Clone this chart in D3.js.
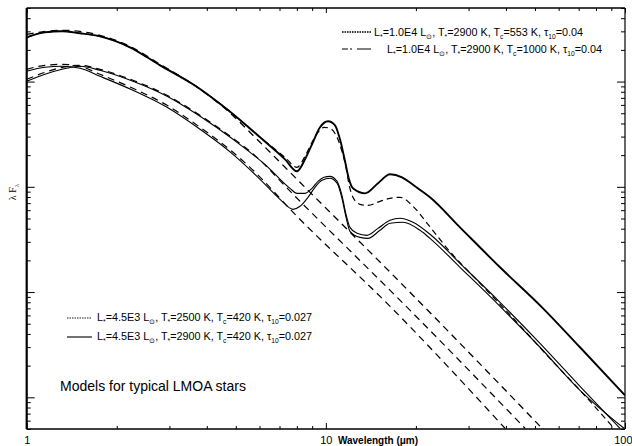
<!DOCTYPE html>
<html><head><meta charset="utf-8">
<script src="https://cdn.jsdelivr.net/npm/d3@7"></script>
<style>body{margin:0;background:#fff}svg{display:block}text{font-family:"Liberation Sans",Arial,Helvetica,sans-serif;fill:#000}</style>
</head><body>
<svg id="c" width="632" height="446"></svg>
<script>
// ---- data: wavelength (micron), lambda*F_lambda (arbitrary units) ----
const xMajorTicks = [1, 10, 100];
const xTickLabels = ["1", "10", "100"];
const yMajorTicks = [1, 10, 100, 1000];

// L*=1.0E4, T*=2900 K, Tc=553 K, tau10=0.04
const modelA = [[1.00,2633],[1.151,2937],[1.312,3002],[1.508,2874],[1.758,2691],[2.214,2116],[2.791,1427],[3.597,941.7],[4.675,544.8],[6.027,295.3],[7.304,182.5],[8.009,140.4],[8.518,182.5],[8.989,253.4],[9.561,367.5],[10.17,419.1],[10.73,384.0],[11.15,282.7],[11.59,174.7],[11.95,117.9],[12.32,96.8],[13.52,86.7],[14.94,108.0],[16.39,131.5],[17.97,123.1],[19.86,101.1],[22.29,79.5],[28.08,41.2],[38.21,17.19],[53.20,7.01],[70.72,2.99],[100,1.045]];
// L*=1.0E4, T*=2900 K, Tc=1000 K, tau10=0.04
const modelB = [[1.00,2633],[1.151,2937],[1.312,3002],[1.508,2874],[1.758,2691],[2.214,2116],[2.791,1427],[3.597,941.7],[4.675,544.8],[6.027,295.3],[7.304,190.7],[8.009,153.2],[8.518,194.9],[8.989,264.7],[9.414,329.3],[9.858,367.5],[10.32,359.5],[10.90,295.3],[11.32,217.5],[11.68,153.2],[11.95,105.6],[12.32,79.5],[13.01,68.2],[13.83,66.7],[15.17,72.8],[16.39,77.8],[17.70,79.5],[19.56,65.3],[21.95,44.0],[25.60,25.5],[32.76,12.11],[43.55,5.16],[54.87,2.506],[70.72,1.166],[91.88,0.508]];
// L*=4.5E3, T*=2500 K, Tc=420 K, tau10=0.027
const modelC = [[1.00,1005.5],[1.151,1172],[1.312,1307],[1.508,1396],[1.758,1279],[2.266,1005.5],[2.945,724.3],[3.797,467.5],[4.894,282.7],[6.360,156.6],[7.589,96.76],[8.009,86.7],[8.518,86.7],[8.989,96.76],[9.414,112.8],[9.858,123.1],[10.32,125.8],[10.90,112.8],[11.32,83.0],[11.68,54.8],[12.04,41.2],[12.71,36.15],[13.72,34.6],[14.94,40.3],[16.39,48.1],[17.70,50.2],[19.56,46.0],[22.29,35.4],[28.08,18.76],[38.21,7.99],[51.99,3.26],[70.72,1.272],[96.23,0.508]];
// L*=4.5E3, T*=2900 K, Tc=420 K, tau10=0.027
const modelD = [[1.00,1251.5],[1.151,1366],[1.312,1396],[1.508,1336],[1.758,1122],[2.266,825.8],[2.945,569.2],[3.797,351.8],[4.894,203.6],[6.027,117.9],[7.028,76.1],[7.766,61.1],[8.197,65.3],[8.717,79.5],[9.199,98.9],[9.708,115.3],[10.32,120.5],[10.90,108.0],[11.32,77.8],[11.68,51.3],[12.04,37.8],[13.01,33.1],[13.83,32.4],[15.17,38.6],[16.39,45.0],[18.11,46.0],[20.64,38.6],[22.29,32.4],[28.08,17.19],[38.21,7.32],[51.99,2.99],[70.72,1.166],[99.24,0.508]];
// naked stellar photospheres
const photo1 = [[1.00,2811],[1.312,3068],[1.758,2750],[2.214,2162],[2.791,1458],[3.597,941.7],[4.675,533.1],[6.027,264.7],[8.009,117.9],[19.86,8.916],[52.80,0.508]];
const photo2 = [[1.00,1050.5],[1.151,1224],[1.312,1366],[1.508,1427],[1.758,1307],[2.266,1028],[2.945,740.3],[3.797,477.8],[4.894,288.9],[5.579,217.5],[8.009,77.8],[20.64,5.39],[46.32,0.508]];
const photo3 = [[1.00,1307],[1.151,1427],[1.312,1458],[1.508,1396],[1.758,1172],[2.266,862.8],[2.945,594.7],[3.797,367.5],[4.894,212.7],[5.579,153.2],[8.009,52.4],[16.39,7.32],[39.71,0.508]];

const legendTop = [
  [["L"],["*",1],["=1.0E4 L"],["\u2299",1],[", T"],["*",1],["=2900 K, T"],["c",1],["=553 K, \u03c4"],["10",1],["=0.04"]],
  [["L"],["*",1],["=1.0E4 L"],["\u2299",1],[", T"],["*",1],["=2900 K, T"],["c",1],["=1000 K, \u03c4"],["10",1],["=0.04"]]
];
const legendBottom = [
  [["L"],["*",1],["=4.5E3 L"],["\u2299",1],[", T"],["*",1],["=2500 K, T"],["c",1],["=420 K, \u03c4"],["10",1],["=0.027"]],
  [["L"],["*",1],["=4.5E3 L"],["\u2299",1],[", T"],["*",1],["=2900 K, T"],["c",1],["=420 K, \u03c4"],["10",1],["=0.027"]]
];
const noteText = "Models for typical LMOA stars";
const xLabel = "Wavelength (\u03bcm)";

// ---- drawing ----
const m = {l:26.7, r:625, t:8, b:429};
const x = d3.scaleLog().domain([1,100]).range([m.l,m.r]);
const y = d3.scaleLog().domain([0.5,5000]).range([m.b,m.t]);
const svg = d3.select("#c");
svg.append("rect").attr("width",632).attr("height",446).attr("fill","#fff");
svg.append("clipPath").attr("id","clip").append("rect")
  .attr("x",m.l).attr("y",m.t).attr("width",m.r-m.l).attr("height",m.b-m.t);
const g = svg.append("g").attr("clip-path","url(#clip)");
const line = d3.line().x(d=>x(d[0])).y(d=>y(d[1])).curve(d3.curveMonotoneX);

const series = [
  {d:photo1, w:1.3, dash:"7,5"},
  {d:photo2, w:1.2, dash:"7,5"},
  {d:photo3, w:1.2, dash:"7,5"},
  {d:modelB, w:1.2, dash:"6,4"},
  {d:modelC, w:1.1, dash:null},
  {d:modelD, w:1.1, dash:null},
  {d:modelA, w:1.9, dash:null}
];
series.forEach(s=>{
  g.append("path").attr("d",line(s.d)).attr("fill","none").attr("stroke","#000")
   .attr("stroke-width",s.w).attr("stroke-dasharray",s.dash).attr("stroke-linejoin","round");
});

// ticks
const xMinor = [];
[1,10].forEach(p=>{for(let k=2;k<=9;k++) xMinor.push(k*p);});
const yMinor = [];
[0.1,1,10,100,1000].forEach(p=>{for(let k=2;k<=9;k++){const v=k*p; if(v>=0.5 && v<=5000) yMinor.push(v);}});

function axisG(axis, tx, ty){
  const a = svg.append("g").attr("transform",`translate(${tx},${ty})`).call(axis);
  a.select(".domain").remove();
  a.selectAll("line").attr("stroke","#000").attr("stroke-width",1);
  return a;
}
const fmtNone = ()=>"";
axisG(d3.axisBottom(x).tickValues(xMinor).tickSize(-3).tickFormat(fmtNone),0,m.b);
const xb = axisG(d3.axisBottom(x).tickValues(xMajorTicks).tickSize(-6).tickPadding(7).tickFormat((d,i)=>xTickLabels[i]),0,m.b);
xb.selectAll("text").attr("font-size","11px").attr("font-family","Liberation Sans, Arial, sans-serif").attr("fill","#000");
// keep the last label inside the window
xb.selectAll("text").filter(d=>d===100).attr("text-anchor","end").attr("x",632-x(100));
axisG(d3.axisTop(x).tickValues(xMinor).tickSize(-3).tickFormat(fmtNone),0,m.t);
axisG(d3.axisTop(x).tickValues(xMajorTicks).tickSize(-5).tickFormat(fmtNone),0,m.t);
axisG(d3.axisLeft(y).tickValues(yMinor).tickSize(-4).tickFormat(fmtNone),m.l,0);
axisG(d3.axisLeft(y).tickValues(yMajorTicks).tickSize(-8).tickFormat(fmtNone),m.l,0);
axisG(d3.axisRight(y).tickValues(yMinor).tickSize(-4).tickFormat(fmtNone),m.r,0);
axisG(d3.axisRight(y).tickValues(yMajorTicks).tickSize(-8).tickFormat(fmtNone),m.r,0);

// frame
const fr = svg.append("g").attr("stroke","#000").attr("fill","none");
fr.append("line").attr("x1",m.l).attr("x2",m.l).attr("y1",m.t).attr("y2",m.b).attr("stroke-width",2.2);
fr.append("line").attr("x1",m.l).attr("x2",m.r).attr("y1",m.b).attr("y2",m.b).attr("stroke-width",1.7);
fr.append("line").attr("x1",m.l).attr("x2",m.r).attr("y1",m.t).attr("y2",m.t).attr("stroke-width",1.7);
fr.append("line").attr("x1",m.r).attr("x2",m.r).attr("y1",m.t).attr("y2",m.b).attr("stroke-width",1.2);

// rich text helper
function rich(xp, yp, parts, size){
  const t = svg.append("text").attr("x",xp).attr("y",yp).attr("font-size",size+"px");
  let prevSub = false;
  parts.forEach(p=>{
    const sub = !!p[1];
    const ts = t.append("tspan").text(p[0]);
    let dy = 0;
    if(sub && !prevSub) dy = size*0.25;
    if(!sub && prevSub) dy = -size*0.25;
    if(dy) ts.attr("dy",dy);
    if(sub) ts.attr("font-size",(size*0.62)+"px");
    prevSub = sub;
  });
  return t;
}
function sample(x1,x2,yy,w,dash){
  svg.append("line").attr("x1",x1).attr("x2",x2).attr("y1",yy).attr("y2",yy)
    .attr("stroke","#000").attr("stroke-width",w).attr("stroke-dasharray",dash);
}
// top-right legend
sample(342,371,32,1.5,"1.6,0.9");
rich(374,36,legendTop[0],10.8);
sample(342,372,49,1.1,"6,2,2,2,0,3,8,0");
rich(387,53,legendTop[1],10.8);
// bottom-left legend
sample(67,92,318,0.9,"1.5,1");
rich(97,321,legendBottom[0],10.8);
sample(67,92,337,1.1,null);
rich(97,340,legendBottom[1],10.8);

svg.append("text").attr("x",60).attr("y",391).attr("font-size","14px").text(noteText);

// axis labels
svg.append("text").attr("x",378).attr("y",444).attr("text-anchor","middle")
  .attr("font-size","10px").attr("font-weight","bold").text(xLabel);
const yl = svg.append("text").attr("transform","translate(16,192) rotate(-90)")
  .attr("text-anchor","middle").attr("font-size","10px")
  .style("font-family","'Liberation Serif','DejaVu Serif',serif");
yl.append("tspan").text("\u03bb F");
yl.append("tspan").attr("dy",2.5).attr("font-size","7px").text("\u03bb");
</script>
</body></html>
